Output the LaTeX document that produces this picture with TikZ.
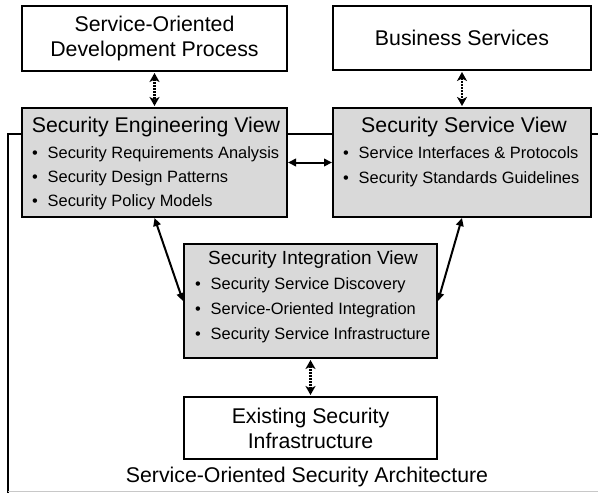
\documentclass[tikz,border=0pt]{standalone}
\usepackage{fontspec}
\setmainfont{Liberation Sans}
\usetikzlibrary{arrows.meta}
\definecolor{boxgray}{RGB}{217,217,217}
\definecolor{rulegray}{RGB}{200,200,200}
\newcommand{\titlefont}{\fontsize{21.3}{25}\selectfont}
\newcommand{\subtitlefont}{\fontsize{19}{22}\selectfont}
\newcommand{\itemfont}{\fontsize{16.4}{20}\selectfont}
\newcommand{\itm}[1]{\makebox[15.5pt][l]{\textbullet}#1}
\begin{document}
\begin{tikzpicture}[x=1pt,y=-1pt,
  plainbox/.style={draw=black, line width=2pt, fill=white, inner sep=0pt, align=center, font=\titlefont},
  viewbox/.style={draw=black, line width=2pt, fill=boxgray, inner sep=0pt},
  titletext/.style={font=\titlefont, anchor=base, inner sep=0pt},
  itemtext/.style={font=\itemfont, anchor=base west, inner sep=0pt},
  link/.style={line width=2pt, {Triangle[length=8pt,width=7.5pt]}-{Triangle[length=8pt,width=7.5pt]}},
  dotlink/.style={line width=2.6pt, dash pattern=on 1.6pt off 1.4pt,
    {Stealth[length=9pt,width=10pt,inset=2.5pt]}-{Stealth[length=9pt,width=10pt,inset=2.5pt]},
    shorten <=1pt, shorten >=1pt},
  frameline/.style={line width=2pt, black}]
\useasboundingbox (0,0) rectangle (598,493);
% frame
\coordinate (ftr) at (600,134);
\coordinate (ftl) at (8,134);
\coordinate (fbl) at (8,494);
\draw[frameline] (ftr) -- (ftl) -- (fbl);
\coordinate (gl) at (8,491.5);
\coordinate (gr) at (600,491.5);
\draw[rulegray, line width=1pt] (gl) -- (gr);
% boxes
\node[plainbox, minimum width=265pt, minimum height=65pt] (sodp) at (154.5,38.5) {Service-Oriented\\Development Process};
\node[plainbox, minimum width=258pt, minimum height=64pt] (bs) at (462,38) {Business Services};
\node[viewbox, minimum width=265pt, minimum height=109pt] (sev) at (154.5,162.5) {};
\node[viewbox, minimum width=258pt, minimum height=109pt] (ssv) at (462,162.5) {};
\node[viewbox, minimum width=253pt, minimum height=114pt] (siv) at (310.5,301) {};
\node[plainbox, minimum width=253pt, minimum height=62pt] (esi) at (310.5,428) {Existing Security\\Infrastructure};
% texts
\node[titletext] (sevt) at (156,132.6) {Security Engineering View};
\node[itemtext] (sev1) at (32,158) {\itm{Security Requirements Analysis}};
\node[itemtext] (sev2) at (32,182) {\itm{Security Design Patterns}};
\node[itemtext] (sev3) at (32,206) {\itm{Security Policy Models}};
\node[titletext] (ssvt) at (464,132.6) {Security Service View};
\node[itemtext] (ssv1) at (343,158) {\itm{Service Interfaces \& Protocols}};
\node[itemtext] (ssv2) at (343,183) {\itm{Security Standards Guidelines}};
\node[titletext, font=\subtitlefont] (sivt) at (313,264.8) {Security Integration View};
\node[itemtext] (siv1) at (195,289) {\itm{Security Service Discovery}};
\node[itemtext] (siv2) at (195,314) {\itm{Service-Oriented Integration}};
\node[itemtext] (siv3) at (195,339) {\itm{Security Service Infrastructure}};
\node[titletext] (cap) at (307,482.6) {Service-Oriented Security Architecture};
% connectors
\draw[dotlink] (sodp.south) -- (sev.north);
\draw[dotlink] (bs.south) -- (ssv.north);
\draw[link] (sev.east) -- (ssv.west);
\draw[link] (sev.south) -- (siv.west);
\draw[link] (ssv.south) -- (siv.east);
\draw[dotlink] (siv.south) -- (esi.north);
\end{tikzpicture}
\end{document}
